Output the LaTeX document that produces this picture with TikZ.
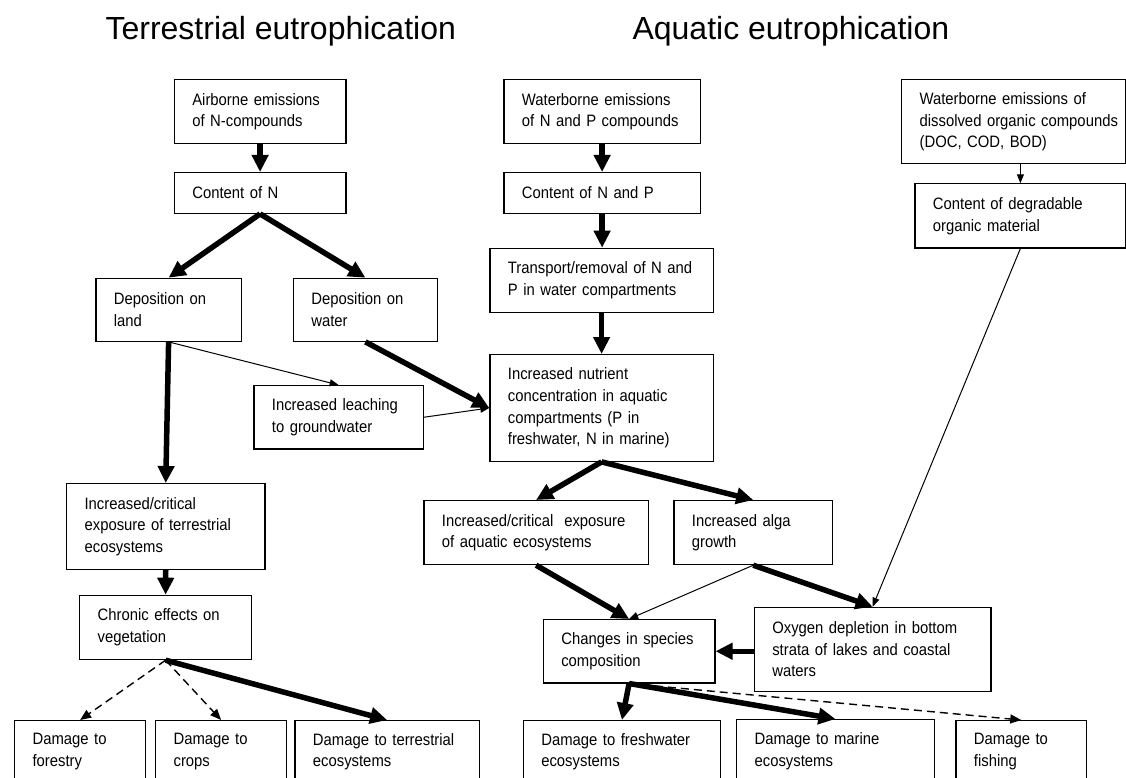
\documentclass[tikz,border=0pt]{standalone}
\usepackage{fontspec}
\setmainfont{Liberation Sans}
\newfontfamily\boxfamily[FakeStretch=0.9]{Liberation Sans}
\usetikzlibrary{arrows.meta}
\newcommand{\diagfont}{\boxfamily\fontsize{16.5}{21.7}\selectfont}
\begin{document}
\begin{tikzpicture}[x=1pt,y=-1pt,
	box/.style={draw,line width=1.2pt,anchor=north west,align=left,inner xsep=18pt,inner ysep=0pt,font=\diagfont},
	bigarrow/.style={line width=5.5pt,-{Triangle[length=17pt,width=16pt]}},
	thinarrow/.style={line width=1pt,-{Triangle[length=9pt,width=7pt]}},
	dasharrow/.style={line width=1.4pt,dash pattern=on 8pt off 5pt,-{Triangle[length=11pt,width=9pt]}}]
	\useasboundingbox (0,0) rectangle (1126,778);
	\clip (0,0) rectangle (1126,778);
	\node[anchor=base west,font=\fontsize{32}{38}\selectfont] (ttitle) at (102,40) {Terrestrial eutrophication};
	\node[anchor=base west,font=\fontsize{32}{38}\selectfont] (atitle) at (629,40) {Aquatic eutrophication};
	
	\node[box,text width=135.6pt,minimum height=64pt] (air) at (173.7,79) {Airborne emissions\\of N-compounds};
	\node[box,text width=135.6pt,minimum height=40.7pt] (cn) at (173.7,172) {Content of N};
	\node[box,text width=109.4pt,minimum height=63pt] (land) at (95.3,277.7) {Deposition on\\land};
	\node[box,text width=108.3pt,minimum height=63pt] (water) at (292.7,277.7) {Deposition on\\water};
	\node[box,text width=133.4pt,minimum height=63.3pt] (leach) at (253.3,385) {Increased leaching\\to groundwater};
	\node[box,text width=162.3pt,minimum height=86pt] (terr) at (66,483) {Increased/critical\\exposure of terrestrial\\ecosystems};
	\node[box,text width=136pt,minimum height=64.3pt] (chron) at (79,594.7) {Chronic effects on\\vegetation};
	\node[box,text width=95pt,minimum height=62pt] (forest) at (14,720) {Damage to\\forestry};
	\node[box,text width=95pt,minimum height=62pt] (crops) at (155,720) {Damage to\\crops};
	\node[box,text width=148.4pt,minimum height=62pt] (dterr) at (294.3,720) {Damage to terrestrial\\ecosystems};
	
	\node[box,text width=160.4pt,minimum height=64.3pt] (wnp) at (503.3,79) {Waterborne emissions\\of N and P compounds};
	\node[box,text width=160.4pt,minimum height=40.7pt] (cnp) at (503.3,172) {Content of N and P};
	\node[box,text width=187.4pt,minimum height=64pt] (trans) at (489.3,247.7) {Transport/removal of N and\\P in water compartments};
	\node[box,text width=187.4pt,minimum height=106.7pt] (nutr) at (489.3,354) {Increased nutrient\\concentration in aquatic\\compartments (P in\\freshwater, N in marine)};
	\node[box,text width=188.4pt,minimum height=64pt] (aqua) at (423.3,500) {Increased/critical~ exposure\\of aquatic ecosystems};
	\node[box,text width=122.7pt,minimum height=64pt] (alga) at (673.3,500) {Increased alga\\growth};
	\node[box,text width=135.6pt,minimum height=63.3pt] (chg) at (542.7,619) {Changes in species\\composition};
	\node[box,text width=200.6pt,minimum height=84pt] (oxy) at (753.7,606.7) {Oxygen depletion in bottom\\strata of lakes and coastal\\waters};
	\node[box,text width=161.3pt,minimum height=62pt] (fresh) at (522.7,720) {Damage to freshwater\\ecosystems};
	\node[box,text width=161.7pt,minimum height=63pt] (marine) at (736,719) {Damage to marine\\ecosystems};
	\node[box,text width=94.7pt,minimum height=62pt] (fish) at (955.3,720) {Damage to\\fishing};
	\node[box,text width=188pt,minimum height=84.3pt] (doc) at (901,79) {Waterborne emissions of\\\mbox{dissolved organic compounds}\\(DOC, COD, BOD)};
	\node[box,text width=175pt,minimum height=64pt] (deg) at (914.3,183.3) {Content of degradable\\organic material};
	
	\draw[bigarrow] (air.south) -- (cn.north);
	\draw[bigarrow] (cn.south) -- (land.north);
	\draw[bigarrow] (cn.south) -- (water.north);
	\draw[bigarrow] (land.south) -- (terr.north);
	\draw[thinarrow] (land.south) -- (leach.north);
	\draw[thinarrow] (leach.east) -- (nutr.west);
	\draw[bigarrow] (water.south) -- (nutr.west);
	\draw[bigarrow] (terr.south) -- (chron.north);
	\draw[dasharrow] (chron.south) -- (forest.north);
	\draw[dasharrow] (chron.south) -- (crops.north);
	\draw[bigarrow] (chron.south) -- (dterr.north);
	
	\draw[bigarrow] (wnp.south) -- (cnp.north);
	\draw[bigarrow] (cnp.south) -- (cnp.south |- trans.north);
	\draw[bigarrow] (trans.south) -- (nutr.north);
	\draw[bigarrow] (nutr.south) -- (aqua.north);
	\draw[bigarrow] (nutr.south) -- (alga.north);
	\draw[bigarrow] (aqua.south) -- (chg.north);
	\draw[thinarrow] (alga.south) -- (chg.north);
	\draw[bigarrow] (alga.south) -- (oxy.north);
	\draw[thinarrow] (deg.north |- doc.south) -- (deg.north);
	\draw[thinarrow] (deg.south) -- (oxy.north);
	\draw[bigarrow] (oxy.west |- chg.east) -- (chg.east);
	\draw[bigarrow] (chg.south) -- (fresh.north);
	\draw[bigarrow] (chg.south) -- (marine.north);
	\draw[dasharrow] (chg.south) -- (fish.north);
\end{tikzpicture}
\end{document}
